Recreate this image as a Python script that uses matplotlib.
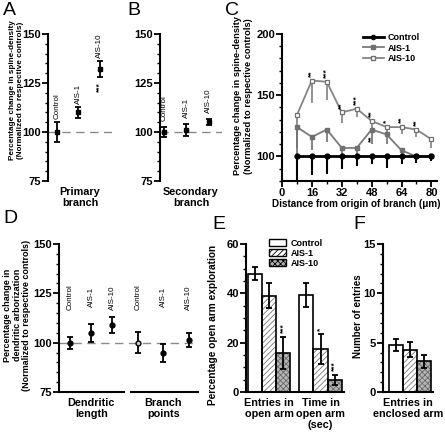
import numpy as np
import matplotlib
matplotlib.use('Agg')
import matplotlib.pyplot as plt
from matplotlib.patches import Patch
from matplotlib.lines import Line2D
from matplotlib.ticker import MultipleLocator

plt.rcParams['font.family'] = ['Liberation Sans', 'DejaVu Sans']
plt.rcParams['font.weight'] = 'bold'
plt.rcParams['axes.linewidth'] = 1.5
plt.rcParams['hatch.linewidth'] = 0.6

# ---- data ----
groups = ['Control', 'AIS-1', 'AIS-10']

# A: primary branch spine density
a_mean = [100, 110, 132]
a_err = [5, 3, 4]

# B: secondary branch spine density
b_mean = [100, 101, 105]
b_err = [2.5, 3, 1.5]

# C: spine density vs distance
c_dist = [8, 16, 24, 32, 40, 48, 56, 64, 72, 80]
c_control = [100, 100, 100, 100, 100, 100, 100, 100, 100, 100]
c_control_err = [25, 15, 14, 10.5, 8, 6.5, 9, 6.5, 5, 4]
c_ais1 = [124, 116, 122, 107, 107, 122, 118, 105, 100, 100]
c_ais1_err = [24, 11, 10, 6, 6, 12, 8, 7, 5, 4]
c_ais10 = [134, 162, 161, 136, 139, 129, 124, 124, 122, 114]
c_ais10_err = [27, 18, 15, 9, 7, 9, 7, 6, 6, 7]
c_stars = ['', '**', '***', '**', '***', '**', '*', '**', '**', '']

# D: dendritic arborization
d_length_mean = [100, 105, 109]
d_length_err = [3, 4.5, 4]
d_branch_mean = [100, 94.7, 101.3]
d_branch_err = [5.4, 4.5, 3.5]

# E: open arm exploration
e_cats = ['Entries in\nopen arm', 'Time in\nopen arm\n(sec)']
e_control = [48, 39.3]
e_control_err = [2.7, 4.7]
e_ais1 = [39, 17.5]
e_ais1_err = [5, 6.2]
e_ais10 = [16, 5]
e_ais10_err = [6.5, 2]
e_stars_ais1 = ['', '*']
e_stars_ais10 = ['***', '***']

# F: enclosed arm entries
f_mean = [4.8, 4.3, 3.1]
f_err = [0.6, 0.8, 0.7]

W, H = 445, 432
fig = plt.figure(figsize=(W / 100, H / 100), dpi=100)


def add_ax(l, r, t, b):
    return fig.add_axes([l / W, 1 - b / H, (r - l) / W, (b - t) / H])


def style(ax, bottom=False):
    ax.spines['top'].set_visible(False)
    ax.spines['right'].set_visible(False)
    ax.spines['bottom'].set_visible(bottom)
    ax.tick_params(axis='y', which='major', length=4, width=1.3, labelsize=8, pad=1)
    ax.tick_params(axis='y', which='minor', length=2.5, width=1.0)
    for lab in ax.get_yticklabels():
        lab.set_fontweight('bold')


def ylab(ax, text, size, x, y, ls=1.15):
    ax.set_ylabel(text, fontsize=size, fontweight='bold', linespacing=ls)
    ax.yaxis.set_label_coords(x, y)


bar_style = dict(fmt='none', ecolor='black', elinewidth=1.3, capsize=2.5, capthick=1.3)
lab_kw = dict(rotation=90, ha='center', va='bottom', fontsize=5.8, fontweight='normal')

# ---- A ----
axA = add_ax(48, 112, 34, 181)
xa = np.arange(1, 4)
axA.axhline(100, ls=(0, (6, 4)), color='#8a8a8a', lw=1)
axA.errorbar(xa, a_mean, yerr=a_err, **bar_style)
axA.plot(xa, a_mean, 's', color='black', ms=3.5)
for x, m, e, g in zip(xa, a_mean, a_err, groups):
    axA.text(x, m + e + 1.5, g, **lab_kw)
axA.text(xa[2], a_mean[2] - a_err[2] - 2.5, '***', rotation=90, ha='center', va='top', fontsize=6)
axA.set_xlim(0.58, 3.56)
axA.set_ylim(75, 150)
axA.set_xticks([])
axA.yaxis.set_major_locator(MultipleLocator(25))
axA.yaxis.set_minor_locator(MultipleLocator(5))
style(axA)
ylab(axA, 'Percentage change in spine-density\n(Normalized to respective controls)', 5.9, -0.38, 0.62)
axA.text(0.5, -0.04, 'Primary\nbranch', transform=axA.transAxes, ha='center', va='top', fontsize=7.8, linespacing=1.1)

# ---- B ----
axB = add_ax(160, 222, 34, 181)
axB.axhline(100, ls=(0, (6, 4)), color='#8a8a8a', lw=1)
axB.errorbar(xa, b_mean, yerr=b_err, **bar_style)
axB.plot(xa, b_mean, 's', color='black', ms=3.5)
for x, m, e, g in zip(xa, b_mean, b_err, groups):
    axB.text(x, m + e + 3, g, **lab_kw)
axB.set_xlim(0.81, 3.6)
axB.set_ylim(75, 150)
axB.set_xticks([])
axB.yaxis.set_major_locator(MultipleLocator(25))
axB.yaxis.set_minor_locator(MultipleLocator(5))
style(axB)
axB.text(0.5, -0.04, 'Secondary\nbranch', transform=axB.transAxes, ha='center', va='top', fontsize=7.8, linespacing=1.1)

# ---- C ----
axC = add_ax(282, 437, 34, 181)
zeros = [0] * len(c_dist)
axC.errorbar(c_dist, c_ais10, yerr=[c_ais10_err, zeros], fmt='none', ecolor='#808080', elinewidth=1.2, capsize=0)
axC.errorbar(c_dist, c_ais1, yerr=[c_ais1_err, zeros], fmt='none', ecolor='#707070', elinewidth=1.2, capsize=0)
axC.errorbar(c_dist, c_control, yerr=[c_control_err, zeros], fmt='none', ecolor='black', elinewidth=1.5, capsize=0)
axC.plot(c_dist, c_ais10, '-s', color='#858585', lw=1.3, ms=3.5, mfc='white', mec='#707070', mew=0.9, label='AIS-10')
axC.plot(c_dist, c_ais1, '-s', color='#7a7a7a', lw=1.3, ms=3.5, mfc='#707070', mec='#707070', label='AIS-1')
axC.plot(c_dist, c_control, '-o', color='black', lw=2, ms=3.5, label='Control')
for x, m, s in zip(c_dist, c_ais10, c_stars):
    if s:
        axC.text(x, m + 3, s, rotation=90, ha='center', va='bottom', fontsize=6)
axC.text(c_dist[5], c_ais1[5] - 5, '**', rotation=90, ha='center', va='top', fontsize=6)
axC.set_xlim(0, 83)
axC.set_ylim(80, 200)
axC.xaxis.set_major_locator(MultipleLocator(16))
axC.xaxis.set_minor_locator(MultipleLocator(8))
axC.yaxis.set_major_locator(MultipleLocator(50))
axC.yaxis.set_minor_locator(MultipleLocator(10))
style(axC, bottom=True)
axC.tick_params(axis='x', which='major', length=4, width=1.3, labelsize=8, pad=1)
axC.tick_params(axis='x', which='minor', length=2.5, width=1.0)
for lab in axC.get_xticklabels():
    lab.set_fontweight('bold')
ylab(axC, 'Percentage change in spine-density\n(Normalized to respective controls)', 6.7, -0.19, 0.58)
axC.set_xlabel('Distance from origin of branch (\u03bcm)', fontsize=7.1, fontweight='bold', labelpad=2)
axC.xaxis.set_label_coords(0.48, -0.12)
handles = [Line2D([], [], color='black', lw=2, marker='o', ms=3),
           Line2D([], [], color='#7a7a7a', lw=1.3, marker='s', ms=3, mfc='#707070', mec='#707070'),
           Line2D([], [], color='#858585', lw=1.3, marker='s', ms=3, mfc='white', mec='#707070')]
axC.legend(handles, groups, loc='upper left', bbox_to_anchor=(0.5, 1.03), frameon=False,
           fontsize=6.5, handlelength=2.3, labelspacing=0.15, handletextpad=0.4, borderaxespad=0)

# ---- D ----
axD = add_ax(59, 198, 244, 392)
xd_len = np.array([1.0, 2.0, 3.0])
xd_br = np.array([4.2, 5.4, 6.6])
axD.axhline(100, ls=(0, (6, 4)), color='#8a8a8a', lw=1)
axD.errorbar(xd_len, d_length_mean, yerr=d_length_err, **bar_style)
axD.plot(xd_len, d_length_mean, 'o', color='black', ms=3.5)
axD.errorbar(xd_br, d_branch_mean, yerr=d_branch_err, **bar_style)
axD.plot(xd_br[:1], d_branch_mean[:1], 'o', color='black', ms=3.5, mfc='#d0d0d0')
axD.plot(xd_br[1:], d_branch_mean[1:], 'o', color='black', ms=3.5)
for x, g in zip(np.concatenate([xd_len, xd_br]), groups * 2):
    axD.text(x, 123, g, rotation=90, ha='center', va='center', fontsize=5.8, fontweight='normal')
axD.set_xlim(0.48, 7.03)
axD.set_ylim(75, 150)
axD.set_xticks([])
axD.yaxis.set_major_locator(MultipleLocator(25))
axD.yaxis.set_minor_locator(MultipleLocator(5))
style(axD)
xt = axD.get_xaxis_transform()
axD.plot([0.48, 3.52], [0, 0], color='black', lw=1.5, transform=xt, clip_on=False)
axD.plot([3.86, 7.03], [0, 0], color='black', lw=1.5, transform=xt, clip_on=False)
axD.text(xd_len.mean(), -0.04, 'Dendritic\nlength', transform=xt, ha='center', va='top', fontsize=7.8, linespacing=1.1)
axD.text(xd_br.mean(), -0.04, 'Branch\npoints', transform=xt, ha='center', va='top', fontsize=7.8, linespacing=1.1)
ylab(axD, 'Percentage change in\ndendritic arborization\n(Normalized to respective controls)', 6.5, -0.2, 0.52, ls=1.1)


def hbar(ax, x, h, face, hatch, hcol):
    ax.bar(x, h, width=1, color=face, hatch=hatch, edgecolor=hcol, lw=0, zorder=2)
    ax.bar(x, h, width=1, color='none', edgecolor='black', lw=1.2, zorder=3)


# ---- E ----
axE = add_ax(246, 344, 244, 392)
xe = np.array([0.0, 3.64])
hbar(axE, xe - 1, e_control, 'white', None, 'black')
hbar(axE, xe, e_ais1, 'white', '//////', '#777777')
hbar(axE, xe + 1, e_ais10, '#b5b5b5', 'xxxxxx', '#6a6a6a')
for off, m, e in [(-1, e_control, e_control_err), (0, e_ais1, e_ais1_err), (1, e_ais10, e_ais10_err)]:
    axE.errorbar(xe + off, m, yerr=e, zorder=4, **bar_style)
for x, m, e, s in zip(xe, e_ais1, e_ais1_err, e_stars_ais1):
    if s:
        axE.text(x, m + e + 1, s, rotation=90, ha='center', va='bottom', fontsize=6)
for x, m, e, s in zip(xe + 1, e_ais10, e_ais10_err, e_stars_ais10):
    axE.text(x, m + e + 1.5, s, rotation=90, ha='center', va='bottom', fontsize=6)
axE.set_xlim(-1.64, 5.3)
axE.set_ylim(0, 60)
axE.set_xticks([])
axE.yaxis.set_major_locator(MultipleLocator(20))
axE.yaxis.set_minor_locator(MultipleLocator(5))
style(axE, bottom=True)
for x, c in zip(xe, e_cats):
    axE.text(x, -0.04, c, transform=axE.get_xaxis_transform(), ha='center', va='top', fontsize=7.8, linespacing=1.1)
ylab(axE, 'Percentage open arm exploration', 7.3, -0.29, 0.45)
leg_h = [Patch(facecolor='white', edgecolor='black', lw=1),
         Patch(facecolor='white', edgecolor='black', hatch='//////', lw=1),
         Patch(facecolor='#b5b5b5', edgecolor='black', hatch='xxxxxx', lw=1)]
axE.legend(leg_h, groups, loc='upper left', bbox_to_anchor=(0.2, 1.06), frameon=False, fontsize=6.5,
           handlelength=1.9, handleheight=0.75, labelspacing=0.12, handletextpad=0.5, borderaxespad=0)

# ---- F ----
axF = add_ax(383, 433, 244, 392)
xf = np.arange(3)
hbar(axF, xf[:1], f_mean[:1], 'white', None, 'black')
hbar(axF, xf[1:2], f_mean[1:2], 'white', '//////', '#777777')
hbar(axF, xf[2:], f_mean[2:], '#b5b5b5', 'xxxxxx', '#6a6a6a')
axF.errorbar(xf, f_mean, yerr=f_err, zorder=4, **bar_style)
axF.set_xlim(-0.9, 2.65)
axF.set_ylim(0, 15)
axF.set_xticks([])
axF.yaxis.set_major_locator(MultipleLocator(5))
axF.yaxis.set_minor_locator(MultipleLocator(1))
style(axF, bottom=True)
axF.text(0.5, -0.04, 'Entries in\nenclosed arm', transform=axF.transAxes, ha='center', va='top', fontsize=7.8, linespacing=1.1)
ylab(axF, 'Number of entries', 7.0, -0.4, 0.51)

# panel letters
for s, x, y in [('A', 3, 2), ('B', 127, 2), ('C', 225, 2), ('D', 3, 210), ('E', 212, 216), ('F', 353, 216)]:
    fig.text(x / W, 1 - y / H, s, ha='left', va='top', fontsize=14, fontweight='normal')

fig.savefig('out.png', dpi=100)
